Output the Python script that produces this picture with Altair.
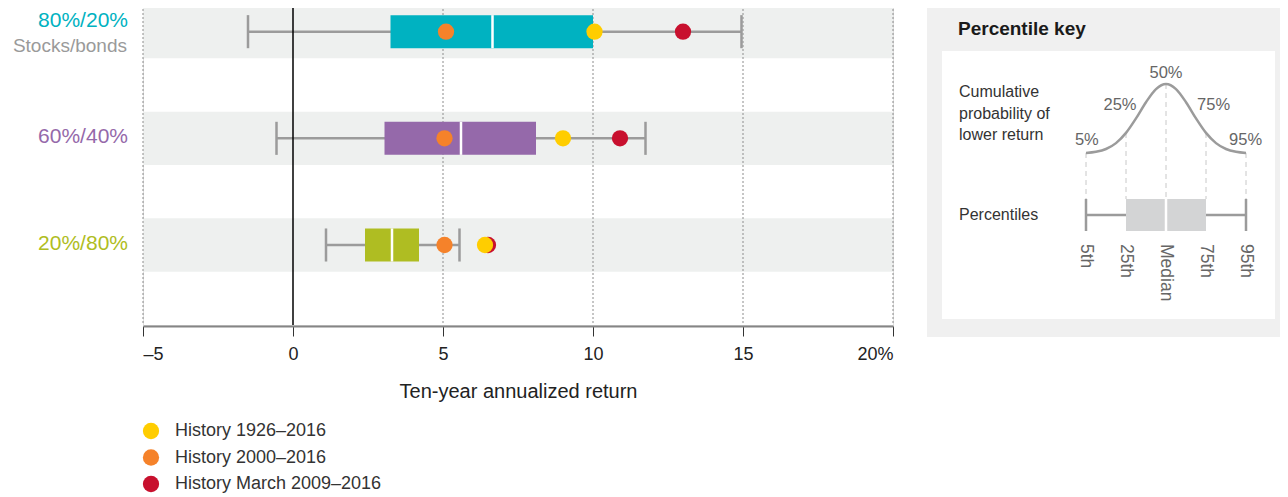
import altair as alt
import pandas as pd

# ---------------- data ----------------
portfolios = ["80%/20%", "60%/40%", "20%/80%"]
portfolio_colors = ["#00B2C1", "#9569AA", "#AFBD22"]
pct_5 = [-1.5, -0.55, 1.1]
pct_25 = [3.25, 3.05, 2.4]
pct_50 = [6.65, 5.6, 3.3]
pct_75 = [10.0, 8.1, 4.2]
pct_95 = [14.95, 11.75, 5.55]

history_labels = ["History 1926–2016", "History 2000–2016", "History March 2009–2016"]
history_colors = ["#FFCD00", "#F5822A", "#C8102E"]
history_1926 = [10.05, 9.0, 6.4]
history_2000 = [5.1, 5.05, 5.05]
history_2009 = [13.0, 10.9, 6.5]

x_ticks = [-5, 0, 5, 10, 15, 20]
x_title = "Ten-year annualized return"
subtitle_label = "Stocks/bonds"

key_title = "Percentile key"
key_curve_text = ["Cumulative", "probability of", "lower return"]
key_box_text = "Percentiles"
key_pct_labels = ["5%", "25%", "50%", "75%", "95%"]
key_rank_labels = ["5th", "25th", "Median", "75th", "95th"]
# illustrative bell curve of the key (percentile position, key layout units)
key_curve_u = [0, 0.25, 0.5, 0.75, 1, 1.25, 1.5, 1.75, 2, 2.25, 2.5, 2.75, 3, 3.25, 3.5, 3.75, 4]
key_curve_v = [153, 151.8, 149, 143.1, 132.9, 118.4, 102.2, 89.1, 84, 89.1, 102.2, 118.4, 132.9, 143.1, 149, 151.8, 153]

FONT = "Liberation Sans"
W, H = 750, 320
SLOTS = 6

# ---------------- main panel ----------------
rows = list(range(len(portfolios)))
df = pd.DataFrame({
    "portfolio": portfolios, "color": portfolio_colors,
    "p5": pct_5, "p25": pct_25, "p50": pct_50, "p75": pct_75, "p95": pct_95,
    "row": rows,
})
df["center"] = 2 * df["row"] + 0.5
df["band_top"] = 2 * df["row"]
df["band_bot"] = 2 * df["row"] + 1
df["box_top"] = df["center"] - 0.31
df["box_bot"] = df["center"] + 0.31
df["xmin"] = x_ticks[0]
df["xmax"] = x_ticks[-1]
df["label_y"] = [c - (0.2 if r == 0 else 0.02) for c, r in zip(df["center"], rows)]
df["sub_y"] = df["center"] + 0.26

grid_df = pd.DataFrame({"x": [t for t in x_ticks if t != 0], "y0": 0, "y1": SLOTS})
zero_df = pd.DataFrame({"x": [0], "y0": [0], "y1": [SLOTS]})

dot_rows = []
order_series = [(2, history_2009), (1, history_2000), (0, history_1926)]
for z, (si, vals) in enumerate(order_series):
    for r, v in zip(rows, vals):
        dot_rows.append({"label": history_labels[si], "value": v, "center": 2 * r + 0.5, "z": z})
dots_df = pd.DataFrame(dot_rows)

xs = alt.Scale(domain=[x_ticks[0], x_ticks[-1]], nice=False, zero=False)
ys = alt.Scale(domain=[0, SLOTS], reverse=True, nice=False, zero=False)
label_expr = (f"datum.value == {x_ticks[-1]} ? datum.value + '%' : "
              "(datum.value < 0 ? '\u2013' + abs(datum.value) : datum.label)")
x_axis = alt.Axis(values=x_ticks, labelExpr=label_expr, grid=False, title=x_title,
                  domainColor="#858585", domainWidth=2, offset=1,
                  tickColor="#333333", tickSize=10, tickWidth=1,
                  labelFontSize=18, labelColor="#222222", labelPadding=9, labelFont=FONT,
                  titleFontSize=20, titleFontWeight="normal", titleColor="#222222",
                  titlePadding=18, titleFont=FONT)


def X(f):
    return alt.X(f, type="quantitative", scale=xs, axis=x_axis)


def Y(f):
    return alt.Y(f, type="quantitative", scale=ys, axis=None)


bands = alt.Chart(df).mark_rect(color="#EEF0EF").encode(x=X("xmin"), x2="xmax", y=Y("band_top"), y2="band_bot")
grid = alt.Chart(grid_df).mark_rule(color="#8C8C8C", strokeDash=[2, 2], strokeWidth=1).encode(
    x=X("x"), y=Y("y0"), y2="y1")
whiskers = alt.Chart(df).mark_rule(color="#9B9B9B", strokeWidth=2.5).encode(x=X("p5"), x2="p95", y=Y("center"))
caps = alt.Chart(df).transform_fold(["p5", "p95"], as_=["k", "v"]).mark_rule(
    color="#9B9B9B", strokeWidth=2.5).encode(x=X("v"), y=Y("box_top"), y2="box_bot")
zero = alt.Chart(zero_df).mark_rule(color="#000000", strokeWidth=1.5).encode(x=X("x"), y=Y("y0"), y2="y1")
boxes = alt.Chart(df).mark_rect().encode(x=X("p25"), x2="p75", y=Y("box_top"), y2="box_bot",
                                         fill=alt.Fill("color:N", scale=None))
medians = alt.Chart(df).mark_rule(color="white", strokeWidth=2.5).encode(x=X("p50"), y=Y("box_top"), y2="box_bot")
dots = alt.Chart(dots_df).mark_circle(size=265, opacity=1).encode(
    x=X("value"), y=Y("center"),
    color=alt.Color("label:N", scale=alt.Scale(domain=history_labels, range=history_colors),
                    legend=alt.Legend(title=None, orient="none", legendX=-1, legendY=417,
                                      symbolType="circle", symbolSize=265, symbolStrokeWidth=0,
                                      symbolOpacity=1, labelFontSize=18, labelColor="#333333",
                                      labelFont=FONT, labelOffset=15, rowPadding=8.5, padding=0,
                                      labelLimit=0)),
    order=alt.Order("z:Q"))
row_labels = alt.Chart(df).mark_text(align="right", baseline="middle", fontSize=21, font=FONT).encode(
    x=alt.value(-15), y=Y("label_y"), text="portfolio:N", fill=alt.Fill("color:N", scale=None))
sub_label = alt.Chart(df[df["row"] == 0]).mark_text(
    align="right", baseline="middle", fontSize=19, font=FONT, color="#9A9A9A").encode(
    x=alt.value(-16), y=Y("sub_y"), text=alt.value(subtitle_label))

main = alt.layer(bands, grid, whiskers, zero, caps, boxes, medians, dots, row_labels, sub_label)

# ---------------- percentile key panel ----------------
ku = alt.Scale(domain=[0, 4], range=[943, 1103], nice=False, zero=False)
kv = alt.Scale(domain=[0, 340], range=[-5, 335], nice=False, zero=False)


def KX(f):
    return alt.X(f, type="quantitative", scale=ku, axis=None)


def KY(f):
    return alt.Y(f, type="quantitative", scale=kv, axis=None)


k_bg = alt.Chart(pd.DataFrame({"u0": [-3.975], "u1": [4.85], "v0": [0], "v1": [337]})).mark_rect(
    color="#F0F0F0").encode(x=KX("u0"), x2="u1", y=KY("v0"), y2="v1")
k_white = alt.Chart(pd.DataFrame({"u0": [-3.6], "u1": [4.725], "v0": [51], "v1": [319]})).mark_rect(
    color="#FFFFFF").encode(x=KX("u0"), x2="u1", y=KY("v0"), y2="v1")
k_title = alt.Chart(pd.DataFrame({"u": [-3.2], "v": [35], "t": [key_title]})).mark_text(
    align="left", baseline="alphabetic", fontSize=19, fontWeight="bold", color="#1A1A1A", font=FONT).encode(
    x=KX("u"), y=KY("v"), text="t:N")
k_left = alt.Chart(pd.DataFrame({"u": [-3.175] * 4, "v": [97, 118.5, 140, 220],
                                 "t": key_curve_text + [key_box_text]})).mark_text(
    align="left", baseline="alphabetic", fontSize=16, color="#333333", font=FONT).encode(
    x=KX("u"), y=KY("v"), text="t:N")
k_dash = alt.Chart(pd.DataFrame({"u": [0, 1, 2, 3, 4], "v0": [153, 133, 84, 133, 153],
                                 "v1": [199] * 5})).mark_rule(
    color="#C8C8C8", strokeDash=[5, 4], strokeWidth=1).encode(x=KX("u"), y=KY("v0"), y2="v1")
k_curve = alt.Chart(pd.DataFrame({"u": key_curve_u, "v": key_curve_v})).mark_line(
    color="#9B9B9B", strokeWidth=2.5, interpolate="monotone").encode(x=KX("u"), y=KY("v"))
k_pct = alt.Chart(pd.DataFrame({"u": [0.02, 0.85, 2.0, 3.19, 3.99], "v": [145, 110, 78, 110, 145],
                                "t": key_pct_labels})).mark_text(
    align="center", baseline="alphabetic", fontSize=16.5, color="#666666", font=FONT).encode(
    x=KX("u"), y=KY("v"), text="t:N")
k_whisk = alt.Chart(pd.DataFrame({"u0": [0], "u1": [4], "v": [215]})).mark_rule(
    color="#9B9B9B", strokeWidth=2.5).encode(x=KX("u0"), x2="u1", y=KY("v"))
k_caps = alt.Chart(pd.DataFrame({"u": [0, 4], "v0": [199, 199], "v1": [231, 231]})).mark_rule(
    color="#9B9B9B", strokeWidth=2.5).encode(x=KX("u"), y=KY("v0"), y2="v1")
k_box = alt.Chart(pd.DataFrame({"u0": [1], "u1": [3], "v0": [199], "v1": [231]})).mark_rect(
    color="#D3D4D5").encode(x=KX("u0"), x2="u1", y=KY("v0"), y2="v1")
k_med = alt.Chart(pd.DataFrame({"u": [2], "v0": [199], "v1": [231]})).mark_rule(
    color="#FFFFFF", strokeWidth=2.5).encode(x=KX("u"), y=KY("v0"), y2="v1")
k_rank = alt.Chart(pd.DataFrame({"u": [0, 1, 2, 3, 4], "v": [244] * 5, "t": key_rank_labels})).mark_text(
    align="left", baseline="middle", angle=90, fontSize=17.5, color="#666666", font=FONT).encode(
    x=KX("u"), y=KY("v"), text="t:N")

key = alt.layer(k_bg, k_white, k_title, k_left, k_dash, k_curve, k_pct, k_whisk, k_caps, k_box, k_med, k_rank)

chart = alt.layer(main, key).resolve_scale(x="independent", y="independent").properties(
    width=W, height=H,
    padding={"left": 135, "top": -3, "right": 387, "bottom": 172},
    autosize=alt.AutoSizeParams(type="none"),
).configure_view(stroke=None).configure(font=FONT)

chart.save("out.html", embed_options={"renderer": "svg", "actions": False})
